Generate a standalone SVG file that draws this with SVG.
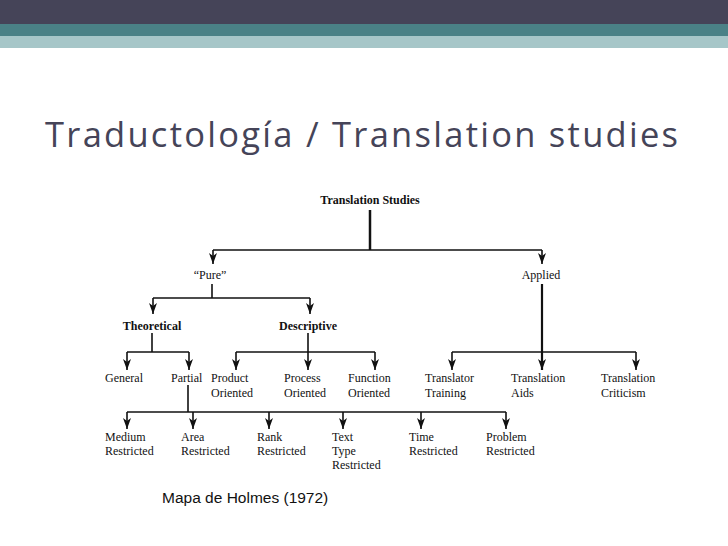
<svg xmlns="http://www.w3.org/2000/svg" width="728" height="546" viewBox="0 0 728 546">
<style>
.n{font-family:"Liberation Serif",serif;font-size:12px;fill:#111}
.c line{stroke:#111;stroke-width:1.6}
.a{marker-end:url(#ar)}
</style>
<defs><marker id="ar" markerWidth="12" markerHeight="8" refX="11" refY="4" orient="auto" markerUnits="userSpaceOnUse" viewBox="0 0 12 8"><path d="M0,0 L11,4 L0,8 L3,4 Z" fill="#111"/></marker></defs>
<rect width="728" height="546" fill="#fff"/>
<rect width="728" height="24" fill="#454458"/>
<rect y="24" width="728" height="12" fill="#4a8186"/>
<rect y="36" width="728" height="12" fill="#a6c6c8"/>
<text x="45" y="147" font-family="Open Sans, sans-serif" font-size="34.5" fill="#454458" textLength="633" lengthAdjust="spacing">Traductología / Translation studies</text>
<g class="c">
<line x1="370" y1="210" x2="370" y2="250" style="stroke-width:2.5"/>
<line x1="213" y1="250" x2="542" y2="250"/>
<line class="a" x1="213" y1="250" x2="213" y2="264"/>
<line class="a" x1="542" y1="250" x2="542" y2="264"/>
<line x1="212" y1="284" x2="212" y2="298"/>
<line x1="153" y1="298" x2="310" y2="298"/>
<line class="a" x1="153" y1="298" x2="153" y2="314"/>
<line class="a" x1="310" y1="298" x2="310" y2="314"/>
<line x1="152" y1="333" x2="152" y2="352"/>
<line x1="127" y1="352" x2="189" y2="352"/>
<line class="a" x1="127" y1="352" x2="127" y2="370"/>
<line class="a" x1="189" y1="352" x2="189" y2="370"/>
<line x1="236" y1="352" x2="375" y2="352"/>
<line class="a" x1="308" y1="333" x2="308" y2="370"/>
<line class="a" x1="236" y1="352" x2="236" y2="370"/>
<line class="a" x1="375" y1="352" x2="375" y2="370"/>
<line class="a" x1="542" y1="284" x2="542" y2="370" style="stroke-width:2.2"/>
<line x1="452" y1="352" x2="636" y2="352"/>
<line class="a" x1="452" y1="352" x2="452" y2="370"/>
<line class="a" x1="636" y1="352" x2="636" y2="370"/>
<line x1="188" y1="385" x2="188" y2="412"/>
<line x1="127" y1="412" x2="506" y2="412"/>
<line class="a" x1="127" y1="412" x2="127" y2="429"/>
<line class="a" x1="193" y1="412" x2="193" y2="429"/>
<line class="a" x1="269" y1="412" x2="269" y2="429"/>
<line class="a" x1="343" y1="412" x2="343" y2="429"/>
<line class="a" x1="421" y1="412" x2="421" y2="429"/>
<line class="a" x1="506" y1="412" x2="506" y2="429"/>
</g>
<g id="ts"><text class="n" x="370" y="204" text-anchor="middle" font-weight="bold">Translation Studies</text></g>
<g id="pure"><text class="n" x="210" y="279" text-anchor="middle">“Pure”</text></g>
<g id="applied"><text class="n" x="541" y="279" text-anchor="middle">Applied</text></g>
<g id="theo"><text class="n" x="152" y="330" text-anchor="middle" font-weight="bold">Theoretical</text></g>
<g id="desc"><text class="n" x="308" y="330" text-anchor="middle" font-weight="bold">Descriptive</text></g>
<g id="general"><text class="n" x="105" y="382">General</text></g>
<g id="partial"><text class="n" x="171" y="382">Partial</text></g>
<g id="product"><text class="n" x="211" y="382">Product<tspan x="211" y="397">Oriented</tspan></text></g>
<g id="process"><text class="n" x="284" y="382">Process<tspan x="284" y="397">Oriented</tspan></text></g>
<g id="function"><text class="n" x="348" y="382">Function<tspan x="348" y="397">Oriented</tspan></text></g>
<g id="training"><text class="n" x="425" y="382">Translator<tspan x="425" y="397">Training</tspan></text></g>
<g id="aids"><text class="n" x="511" y="382">Translation<tspan x="511" y="397">Aids</tspan></text></g>
<g id="criticism"><text class="n" x="601" y="382">Translation<tspan x="601" y="397">Criticism</tspan></text></g>
<g id="medium"><text class="n" x="105" y="441">Medium<tspan x="105" y="455">Restricted</tspan></text></g>
<g id="area"><text class="n" x="181" y="441">Area<tspan x="181" y="455">Restricted</tspan></text></g>
<g id="rank"><text class="n" x="257" y="441">Rank<tspan x="257" y="455">Restricted</tspan></text></g>
<g id="texttype"><text class="n" x="332" y="441">Text<tspan x="332" y="455">Type</tspan><tspan x="332" y="469">Restricted</tspan></text></g>
<g id="time"><text class="n" x="409" y="441">Time<tspan x="409" y="455">Restricted</tspan></text></g>
<g id="problem"><text class="n" x="486" y="441">Problem<tspan x="486" y="455">Restricted</tspan></text></g>
<text x="162" y="503" font-family="Liberation Sans, sans-serif" font-size="15.5" fill="#111">Mapa de Holmes (1972)</text>
</svg>
